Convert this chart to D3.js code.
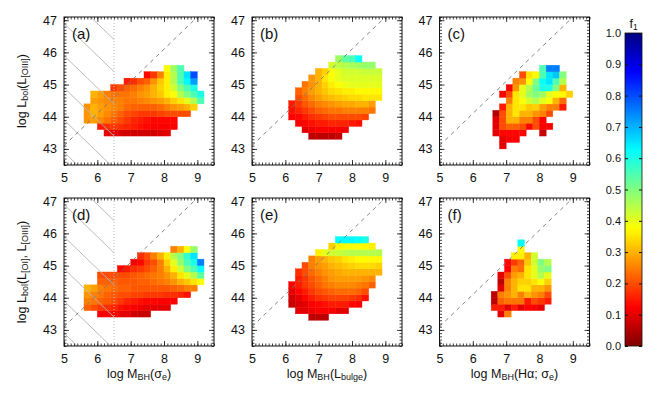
<!DOCTYPE html>
<html>
<head>
<meta charset="utf-8">
<script src="https://cdn.jsdelivr.net/npm/d3@7"></script>
<style>
  body { margin: 0; background: #fff; }
  text { font-family: "Liberation Sans", Arial, sans-serif; fill: #111; }
</style>
</head>
<body>
<svg id="chart" width="659" height="393"></svg>
<script>
// ---- data ----
const xTicks = [5, 6, 7, 8, 9];
const yTicks = [43, 44, 45, 46, 47];
const cbTicks = [0, 0.1, 0.2, 0.3, 0.4, 0.5, 0.6, 0.7, 0.8, 0.9, 1.0];
const panelLabels = ["(a)", "(b)", "(c)", "(d)", "(e)", "(f)"];
const binSize = 0.2;
// lower-left corner of the bin grid for each panel
const binX0 = [5.6, 6.1, 6.6, 5.6, 6.1, 6.55];
const binY0 = [43.4, 43.3, 43.0, 43.4, 43.3, 43.4];
// 1:1 reference line offset, hatched region limit
const oneToOne = 38.1;
const hatchLimit = 6.5;
const hatchLines = [52.9, 51.9, 50.9, 49.9, 48.9, 47.9];

// each row (bottom -> top): [first column, f values...]; null = empty bin
const gridA = [
  [3, 0.10, 0.10, 0.09, 0.08, 0.08, 0.08, 0.08, 0.08, 0.09, 0.10],
  [2, 0.15, 0.17, 0.18, 0.17, 0.16, 0.15, 0.14, 0.13, 0.12, 0.12, 0.12, 0.12],
  [0, 0.27, 0.28, 0.26, 0.24, 0.22, 0.20, 0.18, 0.16, 0.15, 0.14, 0.13, 0.13, 0.13, 0.13],
  [0, 0.27, 0.30, 0.28, 0.26, 0.24, 0.22, 0.20, 0.19, 0.18, 0.18, 0.18, 0.19, 0.20, 0.20, 0.20, 0.20],
  [0, 0.27, 0.30, 0.28, 0.27, 0.26, 0.25, 0.23, 0.22, 0.22, 0.22, 0.22, 0.23, 0.25, 0.27, 0.28, 0.30, 0.33],
  [1, 0.28, 0.27, 0.26, 0.25, 0.25, 0.24, 0.24, 0.25, 0.26, 0.27, 0.28, 0.30, 0.33, 0.35, 0.40, 0.45, 0.55],
  [1, 0.30, 0.28, 0.25, 0.24, 0.24, 0.24, 0.25, 0.27, 0.28, 0.30, 0.32, 0.36, 0.38, 0.45, 0.50, 0.55, 0.60],
  [4, 0.18, 0.20, 0.22, 0.23, 0.25, 0.27, 0.30, 0.33, 0.36, 0.42, 0.50, 0.55, 0.60],
  [6, 0.15, 0.17, 0.20, 0.22, 0.27, 0.32, 0.36, 0.45, 0.55, 0.63, 0.72],
  [9, 0.13, 0.18, 0.25, 0.36, 0.45, 0.55, 0.65, 0.80],
  [12, 0.38, 0.47, 0.55]
];
const gridB = [
  [3, 0.06, 0.06, 0.06, 0.06, 0.07],
  [2, 0.10, 0.11, 0.12, 0.12, 0.12, 0.12, 0.11],
  [1, 0.12, 0.13, 0.14, 0.15, 0.15, 0.16, 0.16, 0.16, 0.15, 0.14],
  [0, 0.12, 0.13, 0.15, 0.17, 0.18, 0.19, 0.20, 0.20, 0.20, 0.20, 0.20, 0.19],
  [0, 0.14, 0.16, 0.18, 0.20, 0.22, 0.23, 0.24, 0.24, 0.25, 0.25, 0.25, 0.25, 0.24],
  [0, 0.15, 0.18, 0.21, 0.23, 0.25, 0.26, 0.27, 0.28, 0.29, 0.29, 0.30, 0.30, 0.28],
  [1, 0.20, 0.23, 0.26, 0.28, 0.30, 0.31, 0.32, 0.33, 0.34, 0.34, 0.35, 0.35, 0.35],
  [1, 0.22, 0.25, 0.28, 0.30, 0.32, 0.34, 0.35, 0.36, 0.36, 0.37, 0.37, 0.37, 0.37],
  [2, 0.24, 0.27, 0.30, 0.33, 0.36, 0.38, 0.39, 0.40, 0.40, 0.40, 0.40, 0.40],
  [3, 0.27, 0.30, 0.35, 0.38, 0.40, 0.41, 0.41, 0.41, 0.41, 0.41, 0.41],
  [4, 0.30, 0.33, 0.38, 0.40, 0.42, 0.42, 0.42, 0.43, 0.43, 0.43],
  [6, 0.42, 0.44, 0.45, 0.46, 0.47, 0.48, 0.48],
  [7, 0.47, 0.53, 0.55, 0.62]
];
const gridC = [
  [1, 0.10],
  [1, 0.10, 0.12, 0.12],
  [0, 0.10, 0.13, 0.13, 0.13, 0.13, null, null, 0.07],
  [0, 0.10, 0.20, 0.22, 0.22, 0.20, 0.12, 0.20, 0.12, 0.12],
  [0, 0.10, 0.20, 0.30, 0.30, 0.25, 0.25, 0.20, 0.12],
  [0, 0.05, 0.20, 0.30, 0.35, 0.30, 0.30, 0.27, 0.25, 0.20],
  [1, 0.15, 0.30, 0.35, 0.35, 0.32, 0.33, 0.28, 0.25, 0.25, 0.15],
  [2, 0.25, 0.35, 0.38, 0.42, 0.45, 0.40, 0.38, 0.30, 0.23],
  [1, 0.12, 0.20, 0.35, 0.40, 0.47, 0.50, 0.47, 0.40, 0.38, 0.37, 0.33],
  [2, 0.12, 0.27, 0.40, 0.45, 0.52, 0.60, 0.60, 0.50, 0.30],
  [3, 0.25, 0.27, 0.38, 0.50, 0.62, 0.65, 0.55, 0.45],
  [4, 0.20, 0.35, 0.37, 0.55, 0.65, 0.68, 0.50],
  [7, 0.55, 0.75, 0.75]
];
const gridD = [
  [2, 0.12, 0.12, 0.12, 0.10, 0.10, 0.08, 0.07, 0.07],
  [0, 0.22, 0.20, 0.18, 0.17, 0.16, 0.14, 0.13, 0.12, 0.11, 0.10, 0.10, 0.10, 0.10],
  [0, 0.25, 0.24, 0.22, 0.21, 0.20, 0.18, 0.16, 0.15, 0.14, 0.13, 0.13, 0.12, 0.12, 0.12],
  [0, 0.27, 0.25, 0.24, 0.22, 0.21, 0.20, 0.20, 0.19, 0.19, 0.18, 0.18, 0.18, 0.17, 0.17, 0.16, 0.14],
  [0, 0.30, 0.28, 0.25, 0.24, 0.23, 0.22, 0.22, 0.21, 0.21, 0.21, 0.21, 0.21, 0.21, 0.22, 0.23, 0.25, 0.25],
  [2, 0.22, 0.22, 0.22, 0.21, 0.21, 0.21, 0.22, 0.22, 0.23, 0.24, 0.25, 0.27, 0.30, 0.32, 0.35, 0.38],
  [2, 0.20, 0.20, 0.20, 0.20, 0.20, 0.21, 0.22, 0.23, 0.24, 0.25, 0.27, 0.30, 0.35, 0.40, 0.45, 0.53],
  [5, 0.13, 0.15, 0.17, 0.18, 0.20, 0.22, 0.25, 0.30, 0.36, 0.42, 0.50, 0.55, 0.62],
  [7, 0.12, 0.13, 0.18, 0.20, 0.25, 0.33, 0.40, 0.48, 0.55, 0.60, 0.75],
  [8, 0.17, 0.20, 0.25, 0.30, 0.36, 0.45, 0.50, 0.58, 0.65],
  [13, 0.25, 0.30, 0.38, 0.48]
];
const gridE = [
  [3, 0.06, 0.06, 0.06],
  [1, 0.10, 0.10, 0.11, 0.12, 0.12, 0.12, 0.10, 0.10],
  [0, 0.07, 0.09, 0.10, 0.12, 0.13, 0.14, 0.15, 0.15, 0.15, 0.13, 0.12],
  [0, 0.08, 0.10, 0.13, 0.15, 0.17, 0.18, 0.19, 0.19, 0.19, 0.18, 0.17, 0.14],
  [0, 0.10, 0.13, 0.15, 0.18, 0.20, 0.21, 0.22, 0.23, 0.23, 0.23, 0.22, 0.20],
  [0, 0.12, 0.15, 0.18, 0.20, 0.22, 0.24, 0.25, 0.26, 0.26, 0.26, 0.25, 0.24, 0.22],
  [1, 0.15, 0.18, 0.21, 0.23, 0.25, 0.27, 0.28, 0.28, 0.28, 0.28, 0.27, 0.26],
  [1, 0.17, 0.20, 0.23, 0.25, 0.27, 0.28, 0.29, 0.30, 0.30, 0.30, 0.30, 0.30, 0.30],
  [2, 0.20, 0.25, 0.27, 0.28, 0.30, 0.31, 0.32, 0.33, 0.34, 0.34, 0.34, 0.33],
  [3, 0.25, 0.28, 0.30, 0.32, 0.33, 0.35, 0.36, 0.37, 0.37, 0.37, 0.37],
  [4, 0.36, 0.40, 0.42, 0.43, 0.44, 0.45, 0.45, 0.45, 0.45, 0.45],
  [6, 0.33, 0.37, 0.38, 0.38, 0.38, 0.37, 0.36],
  [7, 0.62, 0.63, 0.63, 0.62, 0.60]
];
const gridF = [
  [1, 0.10, 0.25],
  [0, 0.15, 0.15, 0.10, 0.15, 0.10, 0.12, 0.12, 0.10],
  [0, 0.06, 0.22, 0.24, 0.24, 0.24, 0.15, 0.20, 0.18, 0.15],
  [0, 0.06, 0.25, 0.27, 0.30, 0.25, 0.30, 0.27, 0.25, 0.20],
  [1, 0.10, 0.25, 0.30, 0.35, 0.35, 0.30, 0.30, 0.27],
  [1, 0.06, 0.25, 0.30, 0.33, 0.33, 0.35, 0.38, 0.33],
  [1, 0.10, 0.20, 0.28, 0.30, 0.35, 0.40, 0.45, 0.40],
  [2, 0.12, 0.25, 0.23, 0.35, 0.40, 0.48, 0.50],
  [2, 0.13, 0.18, 0.22, 0.32, 0.42, 0.50, 0.45],
  [3, 0.36, 0.36, 0.30, 0.42],
  [4, 0.37],
  [4, 0.62]
];
const grids = [gridA, gridB, gridC, gridD, gridE, gridF];

// ---- layout ----
const svg = d3.select("#chart");
const W = 150, H = 148;
const colLeft = [64, 252, 439.5];
const rowTop = [17, 198];

// IDL-like jet colour table (0 = dark red, 1 = dark blue)
function jet(f) {
  const t = 1 - f;
  const c = v => Math.max(0, Math.min(1, v));
  return d3.rgb(255 * c(1.5 - Math.abs(4 * t - 3)),
                255 * c(1.5 - Math.abs(4 * t - 2)),
                255 * c(1.5 - Math.abs(4 * t - 1))).formatHex();
}

const x = d3.scaleLinear().domain([5, 9.5]).range([0, W]);
const y = d3.scaleLinear().domain([42.5, 47.1]).range([H, 0]);

grids.forEach((grid, p) => {
  const col = p % 3, row = Math.floor(p / 3);
  const g = svg.append("g").attr("transform", `translate(${colLeft[col]},${rowTop[row]})`);

  g.append("clipPath").attr("id", "clip" + p)
    .append("rect").attr("width", W).attr("height", H);

  // bins
  const cells = [];
  grid.forEach((r, ri) => {
    r.slice(1).forEach((v, k) => {
      if (v == null) return;
      const x0 = binX0[p] + (r[0] + k) * binSize;
      const y0 = binY0[p] + ri * binSize;
      cells.push({ x0, y0, v });
    });
  });
  g.append("g").selectAll("rect").data(cells).join("rect")
    .attr("x", d => x(d.x0))
    .attr("y", d => y(d.y0 + binSize))
    .attr("width", d => x(d.x0 + binSize) - x(d.x0))
    .attr("height", d => y(d.y0) - y(d.y0 + binSize))
    .attr("fill", d => jet(d.v))
    .attr("stroke", d => jet(d.v))
    .attr("stroke-width", 0.4);

  // hatched region for panels (a) and (d)
  if (col === 0) {
    g.append("clipPath").attr("id", "hclip" + p)
      .append("rect").attr("x", 0).attr("y", 0)
      .attr("width", x(hatchLimit)).attr("height", H);
    g.append("g").attr("clip-path", `url(#hclip${p})`)
      .selectAll("line").data(hatchLines).join("line")
      .attr("x1", x(4)).attr("y1", c => y(c - 4))
      .attr("x2", x(8)).attr("y2", c => y(c - 8))
      .attr("stroke", "#b4b4b4").attr("stroke-width", 0.9);
    g.append("line")
      .attr("x1", x(hatchLimit)).attr("x2", x(hatchLimit))
      .attr("y1", 0).attr("y2", H)
      .attr("stroke", "#bbb").attr("stroke-width", 1)
      .attr("stroke-dasharray", "1,2");
  }

  // 1:1 dashed line
  g.append("line").attr("clip-path", `url(#clip${p})`)
    .attr("x1", x(5)).attr("y1", y(5 + oneToOne))
    .attr("x2", x(9.5)).attr("y2", y(9.5 + oneToOne))
    .attr("stroke", "#777").attr("stroke-width", 0.9)
    .attr("stroke-dasharray", "4,4");

  // axes: minor ticks, major ticks with labels, mirrored on top/right
  const minorX = d3.range(5, 9.51, 0.1);
  const minorY = d3.range(42.5, 47.11, 0.1);
  const fmt = () => "";
  g.append("g").attr("transform", `translate(0,${H})`)
    .call(d3.axisBottom(x).tickValues(minorX).tickSize(-2.5).tickFormat(fmt));
  g.append("g").call(d3.axisTop(x).tickValues(minorX).tickSize(-2.5).tickFormat(fmt));
  g.append("g").call(d3.axisLeft(y).tickValues(minorY).tickSize(-2.5).tickFormat(fmt));
  g.append("g").attr("transform", `translate(${W},0)`)
    .call(d3.axisRight(y).tickValues(minorY).tickSize(-2.5).tickFormat(fmt));

  g.append("g").attr("transform", `translate(0,${H})`)
    .call(d3.axisBottom(x).tickValues(xTicks).tickSize(-5).tickPadding(8).tickFormat(d3.format("d")));
  g.append("g").call(d3.axisTop(x).tickValues(xTicks).tickSize(-5).tickFormat(fmt));
  g.append("g")
    .call(d3.axisLeft(y).tickValues(yTicks).tickSize(-5).tickPadding(7).tickFormat(d3.format("d")));
  g.append("g").attr("transform", `translate(${W},0)`)
    .call(d3.axisRight(y).tickValues(yTicks).tickSize(-5).tickFormat(fmt));

  g.selectAll(".domain").remove();
  g.selectAll(".tick line").attr("stroke", "#111").attr("stroke-width", 0.8);
  g.selectAll(".tick text").attr("font-size", 12.5).attr("fill", "#111")
    .style("font-family", '"Liberation Sans", Arial, sans-serif');

  g.append("rect").attr("width", W).attr("height", H)
    .attr("fill", "none").attr("stroke", "#111").attr("stroke-width", 1);

  g.append("text").attr("x", 8).attr("y", 22)
    .attr("font-size", 15).text(panelLabels[p]);
});

// ---- axis titles ----
function addTitle(parent, parts, attrs) {
  const t = parent.append("text").attr("font-size", 12.5);
  Object.entries(attrs).forEach(([k, v]) => t.attr(k, v));
  parts.forEach(([s, sub]) => {
    const ts = t.append("tspan").text(s);
    if (sub) ts.attr("font-size", 9).attr("baseline-shift", "-25%");
  });
  return t;
}
const yTitleTop = [["log L"], ["bol", 1], ["(L"], ["[OIII]", 1], [")"]];
const yTitleBot = [["log L"], ["bol", 1], ["(L"], ["[OI]", 1], [", L"], ["[OIII]", 1], [")"]];
const xTitles = [
  [["log M"], ["BH", 1], ["(σ"], ["e", 1], [")"]],
  [["log M"], ["BH", 1], ["(L"], ["bulge", 1], [")"]],
  [["log M"], ["BH", 1], ["(Hα; σ"], ["e", 1], [")"]]
];
rowTop.forEach((top, r) => {
  addTitle(svg, r === 0 ? yTitleTop : yTitleBot, {
    "text-anchor": "middle",
    transform: `translate(26,${top + H / 2}) rotate(-90)`
  });
});
colLeft.forEach((left, c) => {
  addTitle(svg, xTitles[c], {
    "text-anchor": "middle", x: left + W / 2, y: 378
  });
});

// ---- colour bar ----
const cbX = 625, cbW = 17, cbTop = 33, cbBot = 346;
const cbScale = d3.scaleLinear().domain([0, 1]).range([cbBot, cbTop]);
const grad = svg.append("defs").append("linearGradient")
  .attr("id", "cbgrad").attr("x1", 0).attr("y1", 1).attr("x2", 0).attr("y2", 0);
d3.range(0, 1.0001, 0.02).forEach(v => {
  grad.append("stop").attr("offset", v).attr("stop-color", jet(v));
});
svg.append("rect").attr("x", cbX).attr("y", cbTop)
  .attr("width", cbW).attr("height", cbBot - cbTop)
  .attr("fill", "url(#cbgrad)").attr("stroke", "#111").attr("stroke-width", 0.8);
const cbAxis = svg.append("g").attr("transform", `translate(${cbX},0)`)
  .call(d3.axisLeft(cbScale).tickValues(cbTicks).tickSize(-3).tickPadding(4).tickFormat(d3.format(".1f")));
svg.append("g").attr("transform", `translate(${cbX + cbW},0)`)
  .call(d3.axisRight(cbScale).tickValues(cbTicks).tickSize(-3).tickFormat(() => ""));
svg.selectAll(".domain").remove();
cbAxis.selectAll("text").attr("font-size", 11).attr("fill", "#111");
svg.selectAll(".tick line").attr("stroke", "#111");
const ft = svg.append("text").attr("x", cbX + cbW / 2).attr("y", 28)
  .attr("text-anchor", "middle").attr("font-size", 12.5);
ft.append("tspan").text("f");
ft.append("tspan").text("1").attr("font-size", 8.5).attr("baseline-shift", "-25%");
</script>
</body>
</html>
